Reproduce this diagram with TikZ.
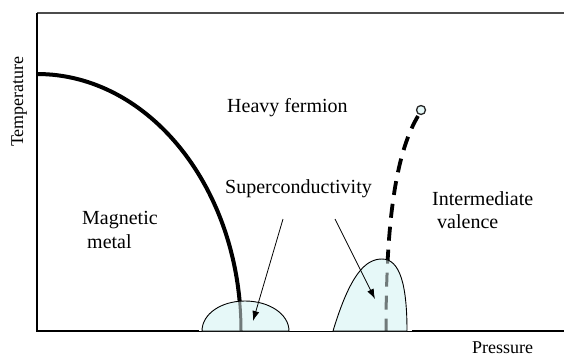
\documentclass[tikz,border=0pt]{standalone}
\usepackage{fontspec}
\setmainfont{Liberation Serif}
\usetikzlibrary{arrows.meta}
\definecolor{scfill}{RGB}{230,248,248}
\definecolor{scgray}{RGB}{112,122,122}
\tikzset{
    % phase boundaries
    magline/.style={line width=4pt, black},
    valline/.style={line width=3.8pt, black, dash pattern=on 14pt off 9pt},
    % superconducting domes
    scdome/.style={fill=scfill},
    domeedge/.style={draw=black, line width=0.9pt},
    % critical end point
    endpoint/.style={circle, draw=black!85, fill=scfill, line width=1.3pt,
        minimum size=9pt, inner sep=0pt},
}
% dome outlines
\newcommand{\domeleft}{(202,331) .. controls (202,314) and (221,301) .. (245,301)
    .. controls (269,301) and (289,314) .. (289,331) -- cycle}
\newcommand{\domeright}{(333,331) .. controls (350,275) and (365,259) .. (382,259)
    .. controls (400,259) and (407,285) .. (407,331) -- cycle}
\newcommand{\magcurve}{(37,74) .. controls (149.6,74) and (241,189) .. (241,331)}
\newcommand{\valcurve}{(418,116) .. controls (398,150) and (386,210) .. (386,331)}

\begin{document}
\begin{tikzpicture}[x=1pt,y=-1pt,
   lbl/.style={font=\fontsize{20}{24}\selectfont,inner sep=0pt,align=left},
   axlbl/.style={font=\fontsize{18}{22}\selectfont,inner sep=0pt},
   pointer/.style={-{Latex[length=10pt,width=7pt]},line width=0.8pt}]
  \useasboundingbox (0,0) rectangle (564,359);
  % frame
  \draw[line width=1.3pt,black!70] (37,13) -- (564,13);
  \draw[line width=1.3pt] (37,13) -- (37,332);
  \draw[line width=2.6pt] (37,331) -- (199,331);
  \draw[line width=0.9pt] (199,331) -- (412,331);
  \draw[line width=2.6pt] (412,331) -- (564,331);

  % boundaries
  \draw[magline] \magcurve;
  \draw[valline] \valcurve;
  \node[endpoint] (cep) at (421,110) {};

  % domes, with the boundaries greyed inside
  \fill[scdome] \domeleft;
  \fill[scdome] \domeright;
  \begin{scope}
    \clip \domeleft;
    \draw[magline,scgray,line width=3pt] \magcurve;
  \end{scope}
  \begin{scope}
    \clip \domeright;
    \draw[valline,scgray,line width=3pt] \valcurve;
  \end{scope}
  \draw[domeedge] \domeleft;
  \draw[domeedge] \domeright;

  % labels (base = last line)
  \node[axlbl,rotate=90,anchor=base] (temp) at (23,101.5) {Temperature};
  \node[axlbl,anchor=base west] (pres) at (472,353) {Pressure};
  \node[lbl,anchor=base west] (hf) at (227,112) {Heavy fermion};
  \node[lbl,anchor=base west] (mm) at (82,248) {Magnetic\\\hspace*{5pt}metal};
  \node[lbl,anchor=base west] (sc) at (225,193) {Superconductivity};
  \node[lbl,anchor=base west,font=\fontsize{20}{23}\selectfont] (iv) at (432,228)
       {Intermediate\\\hspace*{5pt}valence};

  % pointers into the domes
  \coordinate (tailA) at (283,219);
  \coordinate (tipA) at (253,321);
  \coordinate (tailB) at (335,219);
  \coordinate (tipB) at (375,299);
  \draw[pointer] (tailA) -- (tipA);
  \draw[pointer] (tailB) -- (tipB);
\end{tikzpicture}
\end{document}
